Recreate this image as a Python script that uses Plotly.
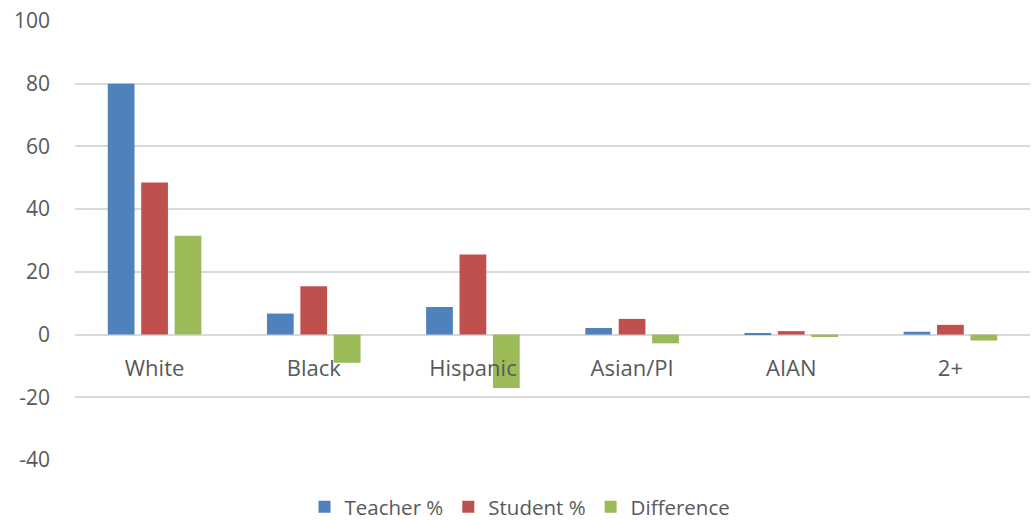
import plotly.graph_objects as go

categories = ["White", "Black", "Hispanic", "Asian/PI", "AIAN", "2+"]
teacher = [80.0, 6.7, 8.8, 2.1, 0.4, 0.9]
student = [48.5, 15.4, 25.5, 5.0, 1.1, 3.1]
difference = [31.5, -9.0, -17.0, -2.8, -0.8, -1.9]
y_ticks = [-40, -20, 0, 20, 40, 60, 80, 100]
y_tick_text = ["-40", "-20", "0", "20", "40", "60", "80", "100"]

series = [
    ("Teacher %", teacher, "#4F81BD"),
    ("Student %", student, "#C0504D"),
    ("Difference", difference, "#9BBB59"),
]

fig = go.Figure()
for name, vals, color in series:
    fig.add_trace(go.Bar(x=categories, y=vals, name=name, marker=dict(color=color, line=dict(width=0))))

font_color = "#595959"
fig.update_layout(
    width=1036, height=520,
    margin=dict(l=75, r=6, t=21, b=60, autoexpand=False),
    paper_bgcolor="white", plot_bgcolor="white",
    barmode="group", bargap=0.37, bargroupgap=0.2,
    font=dict(family="Open Sans, Liberation Sans, sans-serif", color=font_color, size=20),
    legend=dict(orientation="h", x=0.466, xanchor="center", y=-0.107, yanchor="middle",
                font=dict(size=20.5, color=font_color), itemwidth=30, traceorder="normal",
                tracegroupgap=0),
    xaxis=dict(anchor="free", position=40/140, showline=False, ticks="", showgrid=False,
               ticklabelstandoff=18, tickfont=dict(size=22, color=font_color)),
    yaxis=dict(range=[-40, 100], tickvals=y_ticks, ticktext=y_tick_text, showgrid=True,
               gridcolor="#d9d9d9", gridwidth=1.5,
               zeroline=True, zerolinecolor="#d9d9d9", zerolinewidth=1.5, showline=False,
               ticklabelstandoff=24, tickfont=dict(size=21, color=font_color)),
)

fig.write_html("out.html")
